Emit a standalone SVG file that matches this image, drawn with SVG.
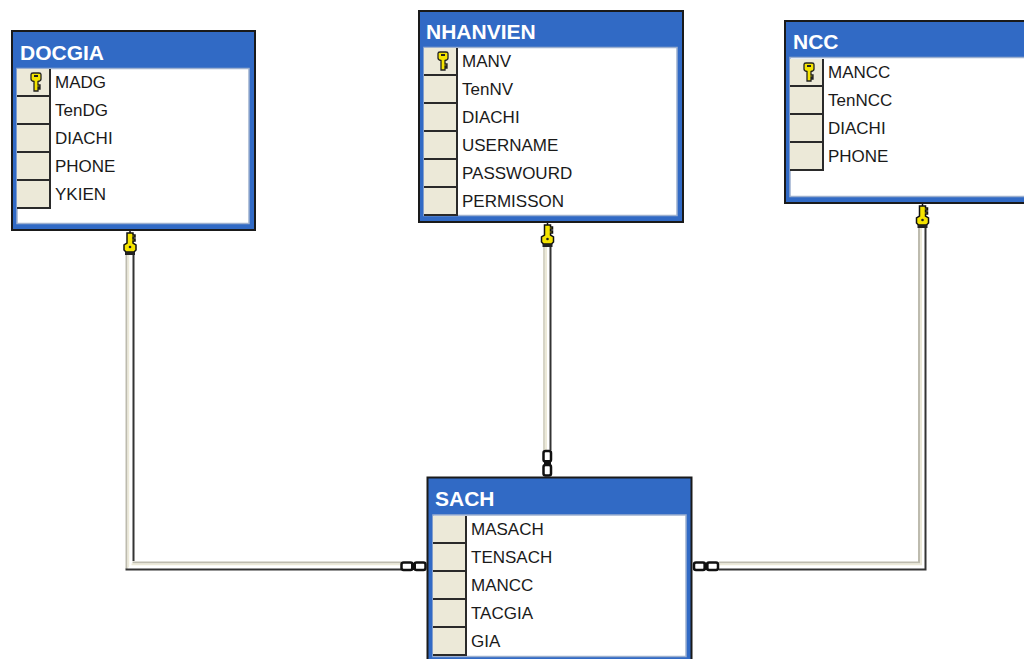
<svg xmlns="http://www.w3.org/2000/svg" width="1024" height="659" viewBox="0 0 1024 659">
<style>
.o{fill:#316ac5;stroke:#1a1a1a;stroke-width:2}
.b{fill:#fff;stroke:#9db0cf;stroke-width:1.5}
.r{fill:#ece9d8}
.rl{stroke:#2a2a2a;stroke-width:2;fill:none}
.t{font:bold 21px "Liberation Sans",Arial,sans-serif;fill:#fff}
.f{font:17px "Liberation Sans",Arial,sans-serif;fill:#1a1a1a}
.s{fill:none;stroke-width:2}
.inf{fill:#fff;stroke:#111;stroke-width:2.500}
</style>
<defs>
<g id="key"><path d="M-5-7.500Q-5-9 -3-9H3Q5-9 5-7.500V-3Q5-1 2-.500V3H4V5H2V6H4V7H2V9H-2V-.500Q-5-1 -5-3Z" fill="#f5e400" stroke="#222" stroke-width="1.300"/><rect x="-2" y="-7" width="4" height="2" fill="#222"/></g>
<g id="ckey"><path d="M-3-9H3V-7H5V-5H3V-3H5V-1H3V1L6 3V8L4 10H-4L-6 8V3L-3 1Z" fill="#f5e400" stroke="#111" stroke-width="1.500"/><circle cx="0" cy="5" r="1.300" fill="#222"/><rect x="-5" y="10" width="10" height="3" fill="#222"/><path d="M0-9V-12" stroke="#111" stroke-width="1.500"/></g>
<g id="cell"><rect class="r" x="0" y="0" width="32" height="26"/><path class="rl" d="M0 27H33V0"/></g>
</defs>
<rect width="1024" height="659" fill="#fff"/>
<g id="connectors">
<path class="s" stroke="#bdbbae" d="M126.500 245V569"/><path class="s" stroke="#ece9d8" d="M128.500 245V567.500"/><path class="s" stroke="#fff" d="M130.500 245V567.500"/><path class="s" stroke="#333" d="M133.500 245V561"/>
<path class="s" stroke="#bdbbae" d="M132.500 562.500H401"/><path class="s" stroke="#ece9d8" d="M131.500 564.500H401"/><path class="s" stroke="#fff" d="M129.500 566.500H401"/><path class="s" stroke="#333" d="M125.500 569.500H401"/>
<path class="s" stroke="#d6d4c6" d="M544 240V450"/><path class="s" stroke="#ece9d8" d="M546 240V450"/><path class="s" stroke="#fff" d="M548 240V450"/><path class="s" stroke="#333" d="M550.500 240V450"/>
<path class="s" stroke="#bdbbae" d="M719 562.500H919V225"/><path class="s" stroke="#ece9d8" d="M719 564.500H921V225"/><path class="s" stroke="#fff" d="M719 566.500H923V225"/><path class="s" stroke="#333" d="M719 569.500H925.500V225"/>
<rect class="inf" x="401.500" y="562.500" width="11" height="7.500" rx="2"/><rect class="inf" x="414.500" y="562.500" width="11" height="7.500" rx="2"/><rect x="411" y="563" width="5" height="7" fill="#111"/>
<rect class="inf" x="694" y="562.500" width="11" height="7.500" rx="2"/><rect class="inf" x="707" y="562.500" width="11" height="7.500" rx="2"/><rect x="703.500" y="563" width="5" height="7" fill="#111"/>
<rect class="inf" x="543.500" y="451" width="7.500" height="10.500" rx="2"/><rect class="inf" x="543.500" y="465" width="7.500" height="10.500" rx="2"/><rect x="544" y="460" width="7" height="6" fill="#111"/>
<use href="#ckey" x="130" y="242"/><use href="#ckey" x="547.500" y="234"/><use href="#ckey" x="922.500" y="215"/>
</g>
<g id="DOCGIA">
<rect class="o" x="12" y="31" width="243" height="199"/><rect class="b" x="17" y="68.500" width="232" height="155"/>
<text class="t" x="20" y="60">DOCGIA</text>
<use href="#cell" x="17" y="69"/><use href="#cell" x="17" y="97"/><use href="#cell" x="17" y="125"/><use href="#cell" x="17" y="153"/><use href="#cell" x="17" y="181"/>
<use href="#key" x="36" y="82"/>
<text class="f" x="55" y="88">MADG</text><text class="f" x="55" y="116">TenDG</text><text class="f" x="55" y="144">DIACHI</text><text class="f" x="55" y="172">PHONE</text><text class="f" x="55" y="200">YKIEN</text>
</g>
<g id="NHANVIEN">
<rect class="o" x="419" y="11" width="264" height="211"/><rect class="b" x="424" y="47.500" width="253" height="168"/>
<text class="t" x="426" y="39">NHANVIEN</text>
<use href="#cell" x="424" y="48"/><use href="#cell" x="424" y="76"/><use href="#cell" x="424" y="104"/><use href="#cell" x="424" y="132"/><use href="#cell" x="424" y="160"/><use href="#cell" x="424" y="188"/>
<use href="#key" x="443" y="61"/>
<text class="f" x="462" y="67">MANV</text><text class="f" x="462" y="95">TenNV</text><text class="f" x="462" y="123">DIACHI</text><text class="f" x="462" y="151">USERNAME</text><text class="f" x="462" y="179">PASSWOURD</text><text class="f" x="462" y="207">PERMISSON</text>
</g>
<g id="NCC">
<rect class="o" x="785" y="21" width="250" height="182"/><rect class="b" x="790" y="57.500" width="240" height="139"/>
<text class="t" x="793" y="49">NCC</text>
<use href="#cell" x="790" y="59"/><use href="#cell" x="790" y="87"/><use href="#cell" x="790" y="115"/><use href="#cell" x="790" y="143"/>
<use href="#key" x="809" y="72"/>
<text class="f" x="828" y="78">MANCC</text><text class="f" x="828" y="106">TenNCC</text><text class="f" x="828" y="134">DIACHI</text><text class="f" x="828" y="162">PHONE</text>
</g>
<g id="SACH">
<rect class="o" x="427.500" y="477.500" width="264" height="190"/><rect class="b" x="433" y="515" width="253" height="141.500"/>
<text class="t" x="435" y="506">SACH</text>
<use href="#cell" x="433" y="516"/><use href="#cell" x="433" y="544"/><use href="#cell" x="433" y="572"/><use href="#cell" x="433" y="600"/><use href="#cell" x="433" y="628"/>
<text class="f" x="471" y="535">MASACH</text><text class="f" x="471" y="563">TENSACH</text><text class="f" x="471" y="591">MANCC</text><text class="f" x="471" y="619">TACGIA</text><text class="f" x="471" y="647">GIA</text>
</g>
</svg>
